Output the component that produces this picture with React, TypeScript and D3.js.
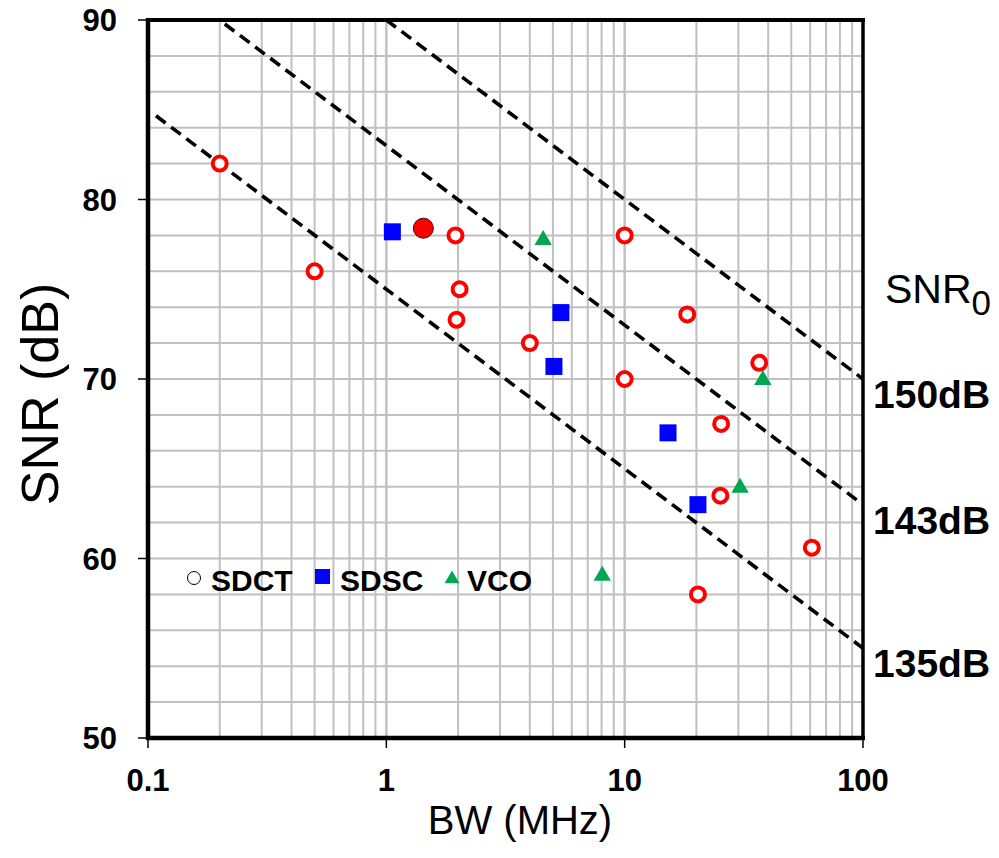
import React from "react";
import * as d3 from "d3";

// values (BW in MHz, SNR in dB)
const sdctBW = [0.2, 0.5, 1.95, 2.03, 1.97, 4, 10, 10, 18.3, 36.7, 25.4, 25.2, 61, 20.3];
const sdctSNR = [82, 76, 78, 75, 73.3, 72, 78, 70, 73.6, 70.9, 67.5, 63.5, 60.6, 58];
const highlightBW = [1.43];
const highlightSNR = [78.4];
const sdscBW = [1.06, 5.4, 5.05, 15.2, 20.3];
const sdscSNR = [78.2, 73.7, 70.7, 67, 63];
const vcoBW = [4.55, 38, 30.5, 8.05];
const vcoSNR = [77.8, 70, 64, 59.1];
const fomLevels = [150, 143, 135];
const fomStartBW = [1, 0.21, 0.108];
const xTicks = [0.1, 1, 10, 100];
const xTickLabels = ["0.1", "1", "10", "100"];
const yTicks = [50, 60, 70, 80, 90];

const W = 999;
const H = 858;
const left = 148, right = 863, top = 20, bottom = 738;
const font = "'Liberation Sans', Arial, sans-serif";

export default function App() {
  const x = d3.scaleLog().domain([0.1, 100]).range([left, right]);
  const y = d3.scaleLinear().domain([50, 90]).range([bottom, top]);

  // minor grid: 1..10 in each decade
  const vGrid: number[] = [];
  for (let dec = 0.1; dec < 100; dec *= 10) {
    for (let k = 1; k <= 10; k++) vGrid.push(+(dec * k).toPrecision(3));
  }
  const hGrid = d3.range(50, 91, 2);

  const fomLine = (fom: number, start: number) => {
    const pts = [start, 100].map((bw) => [x(bw), y(fom - 10 * Math.log10(bw * 1e6))] as [number, number]);
    return d3.line()(pts) as string;
  };

  const tri = d3.symbol().type(d3.symbolTriangle).size(130)() as string;
  const triLegend = d3.symbol().type(d3.symbolTriangle).size(95)() as string;

  return (
    <svg width={W} height={H} style={{ position: "absolute", left: 0, top: 0, background: "#fff" }}>
      <defs>
        <clipPath id="plot">
          <rect x={left} y={top} width={right - left} height={bottom - top} />
        </clipPath>
      </defs>
      <rect x={0} y={0} width={W} height={H} fill="#fff" />

      {/* grid */}
      <g stroke="#c0c0c0" strokeWidth={2}>
        {hGrid.map((v) => (
          <line key={"h" + v} x1={left} x2={right} y1={y(v)} y2={y(v)} />
        ))}
        {vGrid.map((v, i) => (
          <line key={"v" + i} x1={x(v)} x2={x(v)} y1={top} y2={bottom} />
        ))}
      </g>

      {/* FOM lines */}
      <g clipPath="url(#plot)" fill="none" stroke="#000" strokeWidth={3.6} strokeDasharray="12,7">
        {fomLevels.map((f, i) => (
          <path key={f} d={fomLine(f, fomStartBW[i])} />
        ))}
      </g>

      {/* data */}
      <g>
        {sdctBW.map((bw, i) => (
          <circle key={"c" + i} cx={x(bw)} cy={y(sdctSNR[i])} r={7} fill="#fff" stroke="#ff0000" strokeWidth={4} />
        ))}
        {highlightBW.map((bw, i) => (
          <circle key={"hc" + i} cx={x(bw)} cy={y(highlightSNR[i])} r={10} fill="#ff0000" stroke="#400" strokeWidth={1} />
        ))}
        {sdscBW.map((bw, i) => (
          <rect key={"s" + i} x={x(bw) - 8.5} y={y(sdscSNR[i]) - 8.5} width={17} height={17} fill="#0000ff" />
        ))}
        {vcoBW.map((bw, i) => (
          <path key={"t" + i} d={tri} transform={`translate(${x(bw)},${y(vcoSNR[i]) + 1})`} fill="#00a651" />
        ))}
      </g>

      {/* frame */}
      <g stroke="#000" fill="none">
        <line x1={left} x2={left} y1={top - 2} y2={bottom + 2} strokeWidth={4.5} />
        <line x1={left - 2} x2={right + 2} y1={bottom} y2={bottom} strokeWidth={4.5} />
        <line x1={left - 2} x2={right + 2} y1={top} y2={top} strokeWidth={4} />
        <line x1={right} x2={right} y1={top - 2} y2={bottom + 2} strokeWidth={3.5} />
      </g>

      {/* ticks */}
      <g stroke="#000" strokeWidth={1.5}>
        {yTicks.map((v) => (
          <line key={"yt" + v} x1={left - 10} x2={left} y1={y(v)} y2={y(v)} />
        ))}
        {xTicks.map((v) => (
          <line key={"xt" + v} x1={x(v)} x2={x(v)} y1={bottom} y2={bottom + 10} />
        ))}
      </g>
      <g fontFamily={font} fontWeight="bold" fontSize={31} fill="#000">
        {yTicks.map((v) => (
          <text key={"yl" + v} x={117} y={y(v) + 11} textAnchor="end">{v}</text>
        ))}
        {xTicks.map((v, i) => (
          <text key={"xl" + v} x={x(v)} y={bottom + 53} textAnchor="middle">{xTickLabels[i]}</text>
        ))}
      </g>

      {/* axis titles */}
      <text x={520} y={834} textAnchor="middle" fontFamily={font} fontSize={40} fill="#000">BW (MHz)</text>
      <text transform={`translate(58,394) rotate(-90)`} textAnchor="middle" fontFamily={font} fontSize={52} fill="#000">SNR (dB)</text>

      {/* SNR0 labels */}
      <text x={885} y={303} fontFamily={font} fontSize={41} fill="#000">
        SNR<tspan fontSize={35} dy={12}>0</tspan>
      </text>
      <g fontFamily={font} fontWeight="bold" fontSize={39} fill="#000">
        {fomLevels.map((f) => (
          <text key={"fl" + f} x={873} y={y(f - 80) + 29}>{f}dB</text>
        ))}
      </g>

      {/* legend */}
      <g fontFamily={font} fontWeight="bold" fontSize={30} fill="#000">
        <circle cx={194} cy={578} r={6.5} fill="#fff" stroke="#000" strokeWidth={1} />
        <text x={211} y={591}>SDCT</text>
        <rect x={315} y={569} width={15} height={15} fill="#0000ff" />
        <text x={340} y={591}>SDSC</text>
        <path d={triLegend} transform="translate(452,579)" fill="#00a651" />
        <text x={467} y={591}>VCO</text>
      </g>
    </svg>
  );
}
